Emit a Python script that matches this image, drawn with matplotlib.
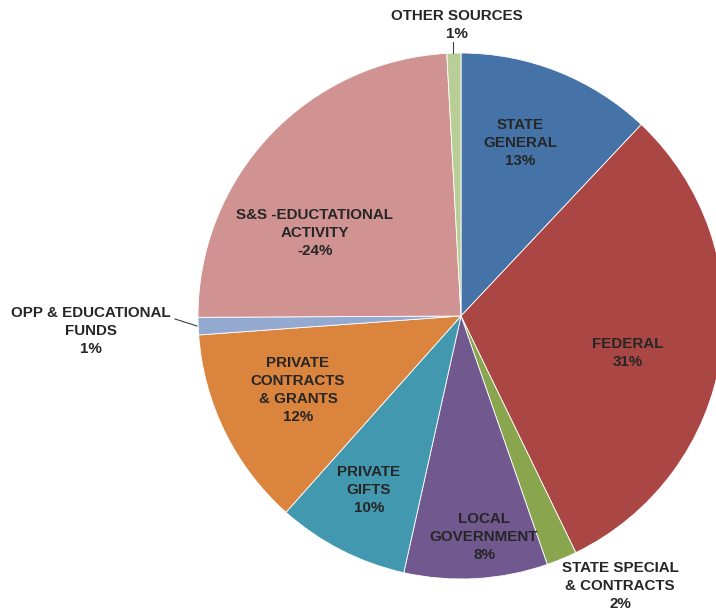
import matplotlib.pyplot as plt

# shares (clockwise from 12 o'clock)
categories = ['STATE\nGENERAL', 'FEDERAL', 'STATE SPECIAL\n& CONTRACTS', 'LOCAL\nGOVERNMENT',
              'PRIVATE\nGIFTS', 'PRIVATE\nCONTRACTS\n& GRANTS', 'OPP & EDUCATIONAL\nFUNDS',
              'S&S -EDUCTATIONAL\nACTIVITY', 'OTHER SOURCES']
shares = [12.02, 30.79, 1.87, 8.81, 8.10, 12.26, 1.07, 24.22, 0.86]
pctLabels = ['13%', '31%', '2%', '8%', '10%', '12%', '1%', '-24%', '1%']
colors = ['#4572A7', '#AA4643', '#89A54E', '#71588F', '#4198AF',
          '#DB843D', '#93A9CF', '#D19392', '#B9CD96']

W, H = 716, 612
cx, cy, R = 461, 316, 263


def px(x, y):
    # pixel position -> data coords (pie radius = 1)
    return (x - cx) / R, (cy - y) / R


fig = plt.figure(figsize=(W / 100, H / 100), dpi=100)
ax = fig.add_axes([0, 0, 1, 1])
ax.pie(shares, colors=colors, startangle=90, counterclock=False, radius=1,
       wedgeprops=dict(edgecolor='white', linewidth=0.6))
ax.set_xlim(-cx / R, (W - cx) / R)
ax.set_ylim((cy - H) / R, cy / R)
ax.set_aspect('equal')
ax.axis('off')

labelPos = [(520, 143), (628, 353), (620, 586), (484, 537), (369, 490),
            (298, 390), (91, 331), (315, 233), (457, 25)]
font = dict(family=['Liberation Sans', 'DejaVu Sans'], fontweight='bold', fontsize=10.9,
            color='#262626', ha='center', va='center', linespacing=1.34)
for name, pct, pos in zip(categories, pctLabels, labelPos):
    x, y = px(*pos)
    ax.text(x, y, name + '\n' + pct, **font)

# leader lines
x0, y0 = px(175, 319)
x1, y1 = px(197, 326)
ax.plot([x0, x1], [y0, y1], color='#404040', lw=0.8)
x0, y0 = px(453, 42)
x1, y1 = px(453, 53)
ax.plot([x0, x1], [y0, y1], color='#404040', lw=0.8)

fig.savefig('out.png', dpi=100)
